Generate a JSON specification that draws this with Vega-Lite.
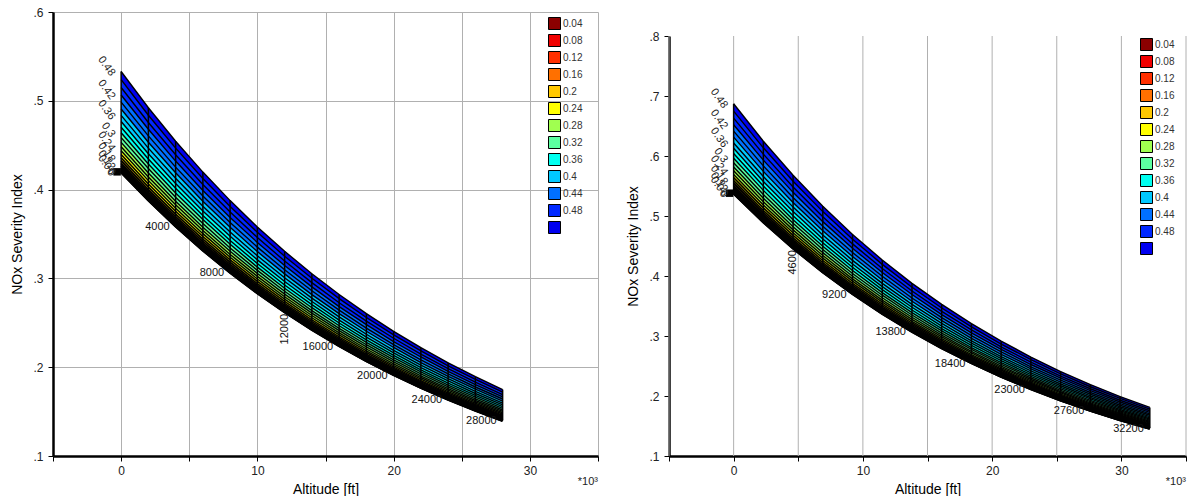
{
"$schema":"https://vega.github.io/schema/vega-lite/v6.json",
"padding":{"left":10,"top":6,"right":0,"bottom":0},
"spacing":27,
"data":{"values":"g,a,p,n\nL,0,0,0.42\nL,0,0.02,0.4202\nL,0,0.04,0.4208\nL,0,0.06,0.4218\nL,0,0.08,0.4231\nL,0,0.1,0.4249\nL,0,0.12,0.4271\nL,0,0.14,0.4296\nL,0,0.16,0.4326\nL,0,0.18,0.4359\nL,0,0.2,0.4396\nL,0,0.22,0.4437\nL,0,0.24,0.4483\nL,0,0.26,0.4532\nL,0,0.28,0.4585\nL,0,0.3,0.4641\nL,0,0.32,0.4702\nL,0,0.34,0.4767\nL,0,0.36,0.4836\nL,0,0.38,0.4908\nL,0,0.4,0.4985\nL,0,0.42,0.5065\nL,0,0.44,0.515\nL,0,0.46,0.5238\nL,0,0.48,0.533\nL,2000,0,0.3883\nL,2000,0.02,0.3885\nL,2000,0.04,0.389\nL,2000,0.06,0.3899\nL,2000,0.08,0.3912\nL,2000,0.1,0.3928\nL,2000,0.12,0.3948\nL,2000,0.14,0.3971\nL,2000,0.16,0.3998\nL,2000,0.18,0.4029\nL,2000,0.2,0.4063\nL,2000,0.22,0.4101\nL,2000,0.24,0.4143\nL,2000,0.26,0.4188\nL,2000,0.28,0.4237\nL,2000,0.3,0.4289\nL,2000,0.32,0.4345\nL,2000,0.34,0.4404\nL,2000,0.36,0.4467\nL,2000,0.38,0.4534\nL,2000,0.4,0.4605\nL,2000,0.42,0.4679\nL,2000,0.44,0.4756\nL,2000,0.46,0.4837\nL,2000,0.48,0.4922\nL,4000,0,0.359\nL,4000,0.02,0.3592\nL,4000,0.04,0.3597\nL,4000,0.06,0.3605\nL,4000,0.08,0.3617\nL,4000,0.1,0.3631\nL,4000,0.12,0.365\nL,4000,0.14,0.3671\nL,4000,0.16,0.3696\nL,4000,0.18,0.3724\nL,4000,0.2,0.3756\nL,4000,0.22,0.3791\nL,4000,0.24,0.3829\nL,4000,0.26,0.387\nL,4000,0.28,0.3915\nL,4000,0.3,0.3963\nL,4000,0.32,0.4015\nL,4000,0.34,0.4069\nL,4000,0.36,0.4127\nL,4000,0.38,0.4189\nL,4000,0.4,0.4253\nL,4000,0.42,0.4321\nL,4000,0.44,0.4393\nL,4000,0.46,0.4467\nL,4000,0.48,0.4545\nL,6000,0,0.3319\nL,6000,0.02,0.3321\nL,6000,0.04,0.3325\nL,6000,0.06,0.3333\nL,6000,0.08,0.3343\nL,6000,0.1,0.3357\nL,6000,0.12,0.3374\nL,6000,0.14,0.3394\nL,6000,0.16,0.3417\nL,6000,0.18,0.3443\nL,6000,0.2,0.3472\nL,6000,0.22,0.3504\nL,6000,0.24,0.3539\nL,6000,0.26,0.3577\nL,6000,0.28,0.3618\nL,6000,0.3,0.3662\nL,6000,0.32,0.3709\nL,6000,0.34,0.376\nL,6000,0.36,0.3813\nL,6000,0.38,0.3869\nL,6000,0.4,0.3929\nL,6000,0.42,0.3991\nL,6000,0.44,0.4057\nL,6000,0.46,0.4126\nL,6000,0.48,0.4197\nL,8000,0,0.3069\nL,8000,0.02,0.307\nL,8000,0.04,0.3074\nL,8000,0.06,0.3081\nL,8000,0.08,0.3091\nL,8000,0.1,0.3104\nL,8000,0.12,0.3119\nL,8000,0.14,0.3137\nL,8000,0.16,0.3158\nL,8000,0.18,0.3182\nL,8000,0.2,0.3209\nL,8000,0.22,0.3238\nL,8000,0.24,0.327\nL,8000,0.26,0.3305\nL,8000,0.28,0.3343\nL,8000,0.3,0.3384\nL,8000,0.32,0.3427\nL,8000,0.34,0.3474\nL,8000,0.36,0.3523\nL,8000,0.38,0.3575\nL,8000,0.4,0.3629\nL,8000,0.42,0.3687\nL,8000,0.44,0.3747\nL,8000,0.46,0.381\nL,8000,0.48,0.3876\nL,10000,0,0.2837\nL,10000,0.02,0.2838\nL,10000,0.04,0.2842\nL,10000,0.06,0.2849\nL,10000,0.08,0.2858\nL,10000,0.1,0.2869\nL,10000,0.12,0.2883\nL,10000,0.14,0.29\nL,10000,0.16,0.2919\nL,10000,0.18,0.2941\nL,10000,0.2,0.2966\nL,10000,0.22,0.2993\nL,10000,0.24,0.3023\nL,10000,0.26,0.3055\nL,10000,0.28,0.309\nL,10000,0.3,0.3127\nL,10000,0.32,0.3167\nL,10000,0.34,0.3209\nL,10000,0.36,0.3255\nL,10000,0.38,0.3302\nL,10000,0.4,0.3352\nL,10000,0.42,0.3405\nL,10000,0.44,0.3461\nL,10000,0.46,0.3519\nL,10000,0.48,0.3579\nL,12000,0,0.2623\nL,12000,0.02,0.2624\nL,12000,0.04,0.2628\nL,12000,0.06,0.2634\nL,12000,0.08,0.2642\nL,12000,0.1,0.2652\nL,12000,0.12,0.2666\nL,12000,0.14,0.2681\nL,12000,0.16,0.2699\nL,12000,0.18,0.2719\nL,12000,0.2,0.2741\nL,12000,0.22,0.2766\nL,12000,0.24,0.2793\nL,12000,0.26,0.2823\nL,12000,0.28,0.2855\nL,12000,0.3,0.2889\nL,12000,0.32,0.2926\nL,12000,0.34,0.2965\nL,12000,0.36,0.3007\nL,12000,0.38,0.3051\nL,12000,0.4,0.3097\nL,12000,0.42,0.3145\nL,12000,0.44,0.3196\nL,12000,0.46,0.325\nL,12000,0.48,0.3305\nL,14000,0,0.2425\nL,14000,0.02,0.2426\nL,14000,0.04,0.2429\nL,14000,0.06,0.2435\nL,14000,0.08,0.2442\nL,14000,0.1,0.2452\nL,14000,0.12,0.2464\nL,14000,0.14,0.2478\nL,14000,0.16,0.2495\nL,14000,0.18,0.2513\nL,14000,0.2,0.2534\nL,14000,0.22,0.2557\nL,14000,0.24,0.2582\nL,14000,0.26,0.2609\nL,14000,0.28,0.2638\nL,14000,0.3,0.267\nL,14000,0.32,0.2704\nL,14000,0.34,0.274\nL,14000,0.36,0.2778\nL,14000,0.38,0.2818\nL,14000,0.4,0.2861\nL,14000,0.42,0.2905\nL,14000,0.44,0.2952\nL,14000,0.46,0.3001\nL,14000,0.48,0.3052\nL,16000,0,0.2242\nL,16000,0.02,0.2243\nL,16000,0.04,0.2246\nL,16000,0.06,0.2251\nL,16000,0.08,0.2258\nL,16000,0.1,0.2267\nL,16000,0.12,0.2278\nL,16000,0.14,0.2291\nL,16000,0.16,0.2306\nL,16000,0.18,0.2323\nL,16000,0.2,0.2342\nL,16000,0.22,0.2363\nL,16000,0.24,0.2386\nL,16000,0.26,0.2411\nL,16000,0.28,0.2438\nL,16000,0.3,0.2467\nL,16000,0.32,0.2498\nL,16000,0.34,0.2531\nL,16000,0.36,0.2566\nL,16000,0.38,0.2603\nL,16000,0.4,0.2642\nL,16000,0.42,0.2683\nL,16000,0.44,0.2726\nL,16000,0.46,0.2772\nL,16000,0.48,0.2819\nL,18000,0,0.2073\nL,18000,0.02,0.2074\nL,18000,0.04,0.2076\nL,18000,0.06,0.2081\nL,18000,0.08,0.2087\nL,18000,0.1,0.2096\nL,18000,0.12,0.2106\nL,18000,0.14,0.2118\nL,18000,0.16,0.2132\nL,18000,0.18,0.2147\nL,18000,0.2,0.2165\nL,18000,0.22,0.2184\nL,18000,0.24,0.2205\nL,18000,0.26,0.2228\nL,18000,0.28,0.2253\nL,18000,0.3,0.228\nL,18000,0.32,0.2308\nL,18000,0.34,0.2339\nL,18000,0.36,0.2371\nL,18000,0.38,0.2405\nL,18000,0.4,0.2441\nL,18000,0.42,0.2479\nL,18000,0.44,0.2518\nL,18000,0.46,0.256\nL,18000,0.48,0.2603\nL,20000,0,0.1916\nL,20000,0.02,0.1917\nL,20000,0.04,0.192\nL,20000,0.06,0.1924\nL,20000,0.08,0.193\nL,20000,0.1,0.1937\nL,20000,0.12,0.1947\nL,20000,0.14,0.1958\nL,20000,0.16,0.197\nL,20000,0.18,0.1985\nL,20000,0.2,0.2001\nL,20000,0.22,0.2019\nL,20000,0.24,0.2038\nL,20000,0.26,0.2059\nL,20000,0.28,0.2082\nL,20000,0.3,0.2107\nL,20000,0.32,0.2133\nL,20000,0.34,0.2161\nL,20000,0.36,0.219\nL,20000,0.38,0.2222\nL,20000,0.4,0.2255\nL,20000,0.42,0.2289\nL,20000,0.44,0.2326\nL,20000,0.46,0.2364\nL,20000,0.48,0.2404\nL,22000,0,0.1772\nL,22000,0.02,0.1772\nL,22000,0.04,0.1775\nL,22000,0.06,0.1779\nL,22000,0.08,0.1784\nL,22000,0.1,0.1791\nL,22000,0.12,0.18\nL,22000,0.14,0.181\nL,22000,0.16,0.1821\nL,22000,0.18,0.1835\nL,22000,0.2,0.1849\nL,22000,0.22,0.1866\nL,22000,0.24,0.1884\nL,22000,0.26,0.1903\nL,22000,0.28,0.1924\nL,22000,0.3,0.1947\nL,22000,0.32,0.1971\nL,22000,0.34,0.1996\nL,22000,0.36,0.2024\nL,22000,0.38,0.2052\nL,22000,0.4,0.2083\nL,22000,0.42,0.2115\nL,22000,0.44,0.2148\nL,22000,0.46,0.2183\nL,22000,0.48,0.222\nL,24000,0,0.1638\nL,24000,0.02,0.1639\nL,24000,0.04,0.1641\nL,24000,0.06,0.1644\nL,24000,0.08,0.1649\nL,24000,0.1,0.1656\nL,24000,0.12,0.1664\nL,24000,0.14,0.1673\nL,24000,0.16,0.1684\nL,24000,0.18,0.1696\nL,24000,0.2,0.1709\nL,24000,0.22,0.1724\nL,24000,0.24,0.1741\nL,24000,0.26,0.1759\nL,24000,0.28,0.1778\nL,24000,0.3,0.1799\nL,24000,0.32,0.1821\nL,24000,0.34,0.1845\nL,24000,0.36,0.187\nL,24000,0.38,0.1896\nL,24000,0.4,0.1924\nL,24000,0.42,0.1953\nL,24000,0.44,0.1984\nL,24000,0.46,0.2016\nL,24000,0.48,0.205\nL,26000,0,0.1514\nL,26000,0.02,0.1515\nL,26000,0.04,0.1517\nL,26000,0.06,0.152\nL,26000,0.08,0.1525\nL,26000,0.1,0.1531\nL,26000,0.12,0.1538\nL,26000,0.14,0.1547\nL,26000,0.16,0.1556\nL,26000,0.18,0.1568\nL,26000,0.2,0.158\nL,26000,0.22,0.1594\nL,26000,0.24,0.1609\nL,26000,0.26,0.1625\nL,26000,0.28,0.1643\nL,26000,0.3,0.1662\nL,26000,0.32,0.1683\nL,26000,0.34,0.1704\nL,26000,0.36,0.1727\nL,26000,0.38,0.1752\nL,26000,0.4,0.1777\nL,26000,0.42,0.1804\nL,26000,0.44,0.1832\nL,26000,0.46,0.1862\nL,26000,0.48,0.1893\nL,28000,0,0.14\nL,28000,0.02,0.1401\nL,28000,0.04,0.1402\nL,28000,0.06,0.1405\nL,28000,0.08,0.141\nL,28000,0.1,0.1415\nL,28000,0.12,0.1422\nL,28000,0.14,0.143\nL,28000,0.16,0.1439\nL,28000,0.18,0.1449\nL,28000,0.2,0.146\nL,28000,0.22,0.1473\nL,28000,0.24,0.1487\nL,28000,0.26,0.1502\nL,28000,0.28,0.1518\nL,28000,0.3,0.1536\nL,28000,0.32,0.1555\nL,28000,0.34,0.1575\nL,28000,0.36,0.1596\nL,28000,0.38,0.1618\nL,28000,0.4,0.1642\nL,28000,0.42,0.1666\nL,28000,0.44,0.1692\nL,28000,0.46,0.172\nL,28000,0.48,0.1748\nR,0,0,0.538\nR,0,0.02,0.5383\nR,0,0.04,0.539\nR,0,0.06,0.5403\nR,0,0.08,0.5421\nR,0,0.1,0.5445\nR,0,0.12,0.5473\nR,0,0.14,0.5507\nR,0,0.16,0.5546\nR,0,0.18,0.559\nR,0,0.2,0.5639\nR,0,0.22,0.5693\nR,0,0.24,0.5753\nR,0,0.26,0.5817\nR,0,0.28,0.5887\nR,0,0.3,0.5962\nR,0,0.32,0.6042\nR,0,0.34,0.6128\nR,0,0.36,0.6218\nR,0,0.38,0.6314\nR,0,0.4,0.6415\nR,0,0.42,0.6521\nR,0,0.44,0.6632\nR,0,0.46,0.6748\nR,0,0.48,0.687\nR,2300,0,0.4902\nR,2300,0.02,0.4904\nR,2300,0.04,0.4911\nR,2300,0.06,0.4923\nR,2300,0.08,0.4939\nR,2300,0.1,0.496\nR,2300,0.12,0.4986\nR,2300,0.14,0.5016\nR,2300,0.16,0.5051\nR,2300,0.18,0.5091\nR,2300,0.2,0.5135\nR,2300,0.22,0.5184\nR,2300,0.24,0.5238\nR,2300,0.26,0.5296\nR,2300,0.28,0.5359\nR,2300,0.3,0.5427\nR,2300,0.32,0.5499\nR,2300,0.34,0.5576\nR,2300,0.36,0.5658\nR,2300,0.38,0.5744\nR,2300,0.4,0.5835\nR,2300,0.42,0.5931\nR,2300,0.44,0.6031\nR,2300,0.46,0.6136\nR,2300,0.48,0.6246\nR,4600,0,0.4466\nR,4600,0.02,0.4468\nR,4600,0.04,0.4474\nR,4600,0.06,0.4485\nR,4600,0.08,0.4499\nR,4600,0.1,0.4518\nR,4600,0.12,0.4541\nR,4600,0.14,0.4569\nR,4600,0.16,0.46\nR,4600,0.18,0.4636\nR,4600,0.2,0.4676\nR,4600,0.22,0.472\nR,4600,0.24,0.4769\nR,4600,0.26,0.4821\nR,4600,0.28,0.4878\nR,4600,0.3,0.4939\nR,4600,0.32,0.5004\nR,4600,0.34,0.5074\nR,4600,0.36,0.5148\nR,4600,0.38,0.5225\nR,4600,0.4,0.5308\nR,4600,0.42,0.5394\nR,4600,0.44,0.5484\nR,4600,0.46,0.5579\nR,4600,0.48,0.5678\nR,6900,0,0.4069\nR,6900,0.02,0.407\nR,6900,0.04,0.4076\nR,6900,0.06,0.4086\nR,6900,0.08,0.4099\nR,6900,0.1,0.4116\nR,6900,0.12,0.4137\nR,6900,0.14,0.4162\nR,6900,0.16,0.419\nR,6900,0.18,0.4222\nR,6900,0.2,0.4258\nR,6900,0.22,0.4298\nR,6900,0.24,0.4342\nR,6900,0.26,0.4389\nR,6900,0.28,0.4441\nR,6900,0.3,0.4496\nR,6900,0.32,0.4554\nR,6900,0.34,0.4617\nR,6900,0.36,0.4684\nR,6900,0.38,0.4754\nR,6900,0.4,0.4828\nR,6900,0.42,0.4906\nR,6900,0.44,0.4987\nR,6900,0.46,0.5073\nR,6900,0.48,0.5162\nR,9200,0,0.3707\nR,9200,0.02,0.3708\nR,9200,0.04,0.3714\nR,9200,0.06,0.3722\nR,9200,0.08,0.3734\nR,9200,0.1,0.375\nR,9200,0.12,0.3768\nR,9200,0.14,0.3791\nR,9200,0.16,0.3816\nR,9200,0.18,0.3845\nR,9200,0.2,0.3878\nR,9200,0.22,0.3914\nR,9200,0.24,0.3953\nR,9200,0.26,0.3996\nR,9200,0.28,0.4042\nR,9200,0.3,0.4092\nR,9200,0.32,0.4145\nR,9200,0.34,0.4201\nR,9200,0.36,0.4261\nR,9200,0.38,0.4325\nR,9200,0.4,0.4391\nR,9200,0.42,0.4462\nR,9200,0.44,0.4535\nR,9200,0.46,0.4612\nR,9200,0.48,0.4693\nR,11500,0,0.3377\nR,11500,0.02,0.3379\nR,11500,0.04,0.3383\nR,11500,0.06,0.3391\nR,11500,0.08,0.3402\nR,11500,0.1,0.3416\nR,11500,0.12,0.3433\nR,11500,0.14,0.3453\nR,11500,0.16,0.3476\nR,11500,0.18,0.3502\nR,11500,0.2,0.3531\nR,11500,0.22,0.3564\nR,11500,0.24,0.3599\nR,11500,0.26,0.3638\nR,11500,0.28,0.368\nR,11500,0.3,0.3724\nR,11500,0.32,0.3772\nR,11500,0.34,0.3823\nR,11500,0.36,0.3877\nR,11500,0.38,0.3934\nR,11500,0.4,0.3995\nR,11500,0.42,0.4058\nR,11500,0.44,0.4124\nR,11500,0.46,0.4194\nR,11500,0.48,0.4266\nR,13800,0,0.3077\nR,13800,0.02,0.3078\nR,13800,0.04,0.3082\nR,13800,0.06,0.3089\nR,13800,0.08,0.3099\nR,13800,0.1,0.3112\nR,13800,0.12,0.3127\nR,13800,0.14,0.3145\nR,13800,0.16,0.3166\nR,13800,0.18,0.319\nR,13800,0.2,0.3216\nR,13800,0.22,0.3245\nR,13800,0.24,0.3277\nR,13800,0.26,0.3312\nR,13800,0.28,0.335\nR,13800,0.3,0.339\nR,13800,0.32,0.3433\nR,13800,0.34,0.3479\nR,13800,0.36,0.3528\nR,13800,0.38,0.3579\nR,13800,0.4,0.3633\nR,13800,0.42,0.3691\nR,13800,0.44,0.375\nR,13800,0.46,0.3813\nR,13800,0.48,0.3878\nR,16100,0,0.2803\nR,16100,0.02,0.2804\nR,16100,0.04,0.2808\nR,16100,0.06,0.2814\nR,16100,0.08,0.2823\nR,16100,0.1,0.2835\nR,16100,0.12,0.2848\nR,16100,0.14,0.2865\nR,16100,0.16,0.2883\nR,16100,0.18,0.2905\nR,16100,0.2,0.2929\nR,16100,0.22,0.2955\nR,16100,0.24,0.2984\nR,16100,0.26,0.3015\nR,16100,0.28,0.3049\nR,16100,0.3,0.3085\nR,16100,0.32,0.3124\nR,16100,0.34,0.3166\nR,16100,0.36,0.321\nR,16100,0.38,0.3256\nR,16100,0.4,0.3305\nR,16100,0.42,0.3357\nR,16100,0.44,0.341\nR,16100,0.46,0.3467\nR,16100,0.48,0.3526\nR,18400,0,0.2554\nR,18400,0.02,0.2555\nR,18400,0.04,0.2558\nR,18400,0.06,0.2564\nR,18400,0.08,0.2572\nR,18400,0.1,0.2582\nR,18400,0.12,0.2595\nR,18400,0.14,0.2609\nR,18400,0.16,0.2626\nR,18400,0.18,0.2645\nR,18400,0.2,0.2667\nR,18400,0.22,0.2691\nR,18400,0.24,0.2717\nR,18400,0.26,0.2745\nR,18400,0.28,0.2776\nR,18400,0.3,0.2808\nR,18400,0.32,0.2843\nR,18400,0.34,0.2881\nR,18400,0.36,0.292\nR,18400,0.38,0.2962\nR,18400,0.4,0.3006\nR,18400,0.42,0.3053\nR,18400,0.44,0.3101\nR,18400,0.46,0.3152\nR,18400,0.48,0.3205\nR,20700,0,0.2327\nR,20700,0.02,0.2328\nR,20700,0.04,0.2331\nR,20700,0.06,0.2336\nR,20700,0.08,0.2343\nR,20700,0.1,0.2352\nR,20700,0.12,0.2363\nR,20700,0.14,0.2377\nR,20700,0.16,0.2392\nR,20700,0.18,0.2409\nR,20700,0.2,0.2429\nR,20700,0.22,0.245\nR,20700,0.24,0.2474\nR,20700,0.26,0.2499\nR,20700,0.28,0.2527\nR,20700,0.3,0.2556\nR,20700,0.32,0.2588\nR,20700,0.34,0.2621\nR,20700,0.36,0.2657\nR,20700,0.38,0.2695\nR,20700,0.4,0.2735\nR,20700,0.42,0.2776\nR,20700,0.44,0.282\nR,20700,0.46,0.2866\nR,20700,0.48,0.2914\nR,23000,0,0.212\nR,23000,0.02,0.2121\nR,23000,0.04,0.2124\nR,23000,0.06,0.2128\nR,23000,0.08,0.2135\nR,23000,0.1,0.2143\nR,23000,0.12,0.2153\nR,23000,0.14,0.2165\nR,23000,0.16,0.2179\nR,23000,0.18,0.2194\nR,23000,0.2,0.2212\nR,23000,0.22,0.2231\nR,23000,0.24,0.2252\nR,23000,0.26,0.2275\nR,23000,0.28,0.23\nR,23000,0.3,0.2327\nR,23000,0.32,0.2355\nR,23000,0.34,0.2385\nR,23000,0.36,0.2418\nR,23000,0.38,0.2452\nR,23000,0.4,0.2487\nR,23000,0.42,0.2525\nR,23000,0.44,0.2565\nR,23000,0.46,0.2606\nR,23000,0.48,0.2649\nR,25300,0,0.1931\nR,25300,0.02,0.1932\nR,25300,0.04,0.1935\nR,25300,0.06,0.1939\nR,25300,0.08,0.1945\nR,25300,0.1,0.1952\nR,25300,0.12,0.1961\nR,25300,0.14,0.1972\nR,25300,0.16,0.1984\nR,25300,0.18,0.1998\nR,25300,0.2,0.2014\nR,25300,0.22,0.2032\nR,25300,0.24,0.2051\nR,25300,0.26,0.2071\nR,25300,0.28,0.2094\nR,25300,0.3,0.2118\nR,25300,0.32,0.2143\nR,25300,0.34,0.2171\nR,25300,0.36,0.22\nR,25300,0.38,0.223\nR,25300,0.4,0.2263\nR,25300,0.42,0.2297\nR,25300,0.44,0.2332\nR,25300,0.46,0.237\nR,25300,0.48,0.2408\nR,27600,0,0.176\nR,27600,0.02,0.176\nR,27600,0.04,0.1763\nR,27600,0.06,0.1766\nR,27600,0.08,0.1772\nR,27600,0.1,0.1778\nR,27600,0.12,0.1786\nR,27600,0.14,0.1796\nR,27600,0.16,0.1807\nR,27600,0.18,0.182\nR,27600,0.2,0.1834\nR,27600,0.22,0.185\nR,27600,0.24,0.1867\nR,27600,0.26,0.1886\nR,27600,0.28,0.1906\nR,27600,0.3,0.1928\nR,27600,0.32,0.1951\nR,27600,0.34,0.1975\nR,27600,0.36,0.2001\nR,27600,0.38,0.2029\nR,27600,0.4,0.2058\nR,27600,0.42,0.2089\nR,27600,0.44,0.2121\nR,27600,0.46,0.2154\nR,27600,0.48,0.219\nR,29900,0,0.1603\nR,29900,0.02,0.1604\nR,29900,0.04,0.1606\nR,29900,0.06,0.1609\nR,29900,0.08,0.1614\nR,29900,0.1,0.162\nR,29900,0.12,0.1627\nR,29900,0.14,0.1636\nR,29900,0.16,0.1646\nR,29900,0.18,0.1658\nR,29900,0.2,0.167\nR,29900,0.22,0.1684\nR,29900,0.24,0.17\nR,29900,0.26,0.1717\nR,29900,0.28,0.1735\nR,29900,0.3,0.1754\nR,29900,0.32,0.1775\nR,29900,0.34,0.1797\nR,29900,0.36,0.1821\nR,29900,0.38,0.1846\nR,29900,0.4,0.1872\nR,29900,0.42,0.19\nR,29900,0.44,0.1929\nR,29900,0.46,0.1959\nR,29900,0.48,0.1991\nR,32200,0,0.1461\nR,32200,0.02,0.1461\nR,32200,0.04,0.1463\nR,32200,0.06,0.1466\nR,32200,0.08,0.147\nR,32200,0.1,0.1476\nR,32200,0.12,0.1482\nR,32200,0.14,0.149\nR,32200,0.16,0.1499\nR,32200,0.18,0.151\nR,32200,0.2,0.1521\nR,32200,0.22,0.1534\nR,32200,0.24,0.1548\nR,32200,0.26,0.1563\nR,32200,0.28,0.1579\nR,32200,0.3,0.1597\nR,32200,0.32,0.1616\nR,32200,0.34,0.1636\nR,32200,0.36,0.1657\nR,32200,0.38,0.1679\nR,32200,0.4,0.1703\nR,32200,0.42,0.1728\nR,32200,0.44,0.1754\nR,32200,0.46,0.1781\nR,32200,0.48,0.181\n","format":{"type":"csv","parse":{"a":"number","p":"number","n":"number"}}},
"hconcat":[
{"width":545,"height":444,
 "layer":[
  {"transform":[{"filter":"datum.g=='L'"},{"window":[{"op":"lead","field":"n","as":"n2"},{"op":"lead","field":"p","as":"p2"}],"groupby":["a"],"sort":[{"field":"p","order":"ascending"}]},{"filter":"datum.p2 != null"}],
   "mark":{"type":"area","strokeWidth":0,"opacity":1},
   "encoding":{
    "x":{"field":"a","type":"quantitative","scale":{"domain":[-5000,35000],"nice":false,"zero":false},"axis":{"values":[-5000,0,5000,10000,15000,20000,25000,30000,35000],"labelExpr":"datum.value % 10000 == 0 ? format(datum.value/1000,'d') : ''","title":"Altitude [ft]"}},
    "y":{"field":"n","type":"quantitative","scale":{"domain":[0.1,0.6],"nice":false,"zero":false},"axis":{"values":[0.1,0.2,0.3,0.4,0.5,0.6],"labelExpr":"replace(format(datum.value,'.1f'),'0.','.')","title":"NOx Severity Index"}},
    "y2":{"field":"n2"},
    "detail":{"field":"p","type":"nominal"},
    "color":{"field":"p2","type":"ordinal","scale":{"domain":[0.02,0.04,0.06,0.08,0.1,0.12,0.14,0.16,0.18,0.2,0.22,0.24,0.26,0.28,0.3,0.32,0.34,0.36,0.38,0.4,0.42,0.44,0.46,0.48],"range":["#8b0000","#f00000","#f00000","#ff3000","#ff3000","#ff7000","#ff7000","#ffc800","#ffc800","#ffff00","#ffff00","#a0ff50","#a0ff50","#5cffa0","#5cffa0","#00fff0","#00fff0","#00c8ff","#00c8ff","#0070ff","#0070ff","#0028ff","#0028ff","#0000f0"]},
      "legend":{"orient":"none","legendX":495,"legendY":5,"type":"symbol","direction":"vertical","title":null,"values":[0.02,0.04,0.08,0.12,0.16,0.2,0.24,0.28,0.32,0.36,0.4,0.44,0.48],"labelExpr":"datum.value == 0.48 ? '' : format(datum.value == 0.02 ? 0.04 : datum.value + 0.04, '~g')"}}
   }},
  {"transform":[{"filter":"datum.g=='L'"}],
   "mark":{"type":"line","color":"black"},
   "encoding":{
    "x":{"field":"a","type":"quantitative","scale":{"domain":[-5000,35000],"nice":false,"zero":false}},
    "y":{"field":"n","type":"quantitative","scale":{"domain":[0.1,0.6],"nice":false,"zero":false}},
    "detail":{"field":"p","type":"nominal"},
    "strokeWidth":{"field":"p","type":"quantitative","scale":{"domain":[0,0.22],"range":[3,1.4],"clamp":true},"legend":null}
   }},
  {"transform":[{"filter":"datum.g=='L'"}],
   "mark":{"type":"rule","color":"black","strokeWidth":1.5},
   "encoding":{
    "x":{"field":"a","type":"quantitative","scale":{"domain":[-5000,35000],"nice":false,"zero":false}},
    "y":{"aggregate":"min","field":"n","type":"quantitative","scale":{"domain":[0.1,0.6],"nice":false,"zero":false}},
    "y2":{"aggregate":"max","field":"n"}
   }},
  {"transform":[{"filter":"datum.g=='L' && datum.a==0 && datum.p==0"}],
   "mark":{"type":"square","color":"black","filled":true,"opacity":1,"size":56,"xOffset":-4},
   "encoding":{
    "x":{"field":"a","type":"quantitative"},
    "y":{"field":"n","type":"quantitative"}
   }},
  {"transform":[{"filter":"datum.g=='L' && datum.a==0 && indexof([0,0.06,0.12,0.18,0.24,0.3,0.36,0.42,0.48], datum.p) >= 0"}],
   "mark":{"type":"text","angle":55,"align":"right","baseline":"middle","dx":-2,"dy":9,"fontSize":11,"font":"Liberation Sans","color":"#222"},
   "encoding":{
    "x":{"field":"a","type":"quantitative"},
    "y":{"field":"n","type":"quantitative"},
    "text":{"field":"p","type":"quantitative","format":"~g"}
   }},
  {"transform":[{"filter":"datum.g=='L' && datum.p==0 && indexof([4000,8000,16000,20000,24000,28000], datum.a) >= 0"}],
   "mark":{"type":"text","align":"right","baseline":"middle","dx":-6,"dy":1,"fontSize":11,"font":"Liberation Sans","color":"#111"},
   "encoding":{
    "x":{"field":"a","type":"quantitative"},
    "y":{"field":"n","type":"quantitative"},
    "text":{"field":"a","type":"quantitative","format":"d"}
   }},
  {"transform":[{"filter":"datum.g=='L' && datum.p==0 && datum.a==12000"}],
   "mark":{"type":"text","angle":270,"align":"right","baseline":"middle","dx":-2,"fontSize":11,"font":"Liberation Sans","color":"#111"},
   "encoding":{
    "x":{"field":"a","type":"quantitative"},
    "y":{"field":"n","type":"quantitative"},
    "text":{"field":"a","type":"quantitative","format":"d"}
   }},
  {"data":{"values":[{"a":35000,"n":0.1,"t":"*10³"}]},
   "mark":{"type":"text","align":"right","baseline":"top","dy":20,"fontSize":11,"font":"Liberation Sans","color":"#222"},
   "encoding":{
    "x":{"field":"a","type":"quantitative"},
    "y":{"field":"n","type":"quantitative"},
    "text":{"field":"t"}
   }}
 ]},
{"width":517,"height":444,
 "layer":[
  {"data":{"values":[{"gx":-5000},{"gx":0},{"gx":5000},{"gx":10000},{"gx":15000},{"gx":20000},{"gx":25000},{"gx":30000},{"gx":35000}]},
   "mark":{"type":"rule","color":"#b0b0b0","strokeWidth":1},
   "encoding":{
    "x":{"field":"gx","type":"quantitative","scale":{"domain":[-5000,35000],"nice":false,"zero":false}},
    "y":{"datum":0.1,"type":"quantitative","scale":{"domain":[0.1,0.8],"nice":false,"zero":false,"range":[444,24]}},
    "y2":{"datum":0.8}
   }},
  {"transform":[{"filter":"datum.g=='R'"},{"window":[{"op":"lead","field":"n","as":"n2"},{"op":"lead","field":"p","as":"p2"}],"groupby":["a"],"sort":[{"field":"p","order":"ascending"}]},{"filter":"datum.p2 != null"}],
   "mark":{"type":"area","strokeWidth":0,"opacity":1},
   "encoding":{
    "x":{"field":"a","type":"quantitative","scale":{"domain":[-5000,35000],"nice":false,"zero":false},"axis":{"grid":false,"values":[-5000,0,5000,10000,15000,20000,25000,30000,35000],"labelExpr":"datum.value % 10000 == 0 ? format(datum.value/1000,'d') : ''","title":"Altitude [ft]"}},
    "y":{"field":"n","type":"quantitative","scale":{"domain":[0.1,0.8],"nice":false,"zero":false,"range":[444,24]},"axis":{"values":[0.1,0.2,0.3,0.4,0.5,0.6,0.7,0.8],"labelExpr":"replace(format(datum.value,'.1f'),'0.','.')","title":"NOx Severity Index"}},
    "y2":{"field":"n2"},
    "detail":{"field":"p","type":"nominal"},
    "color":{"field":"p2","type":"ordinal","scale":{"domain":[0.02,0.04,0.06,0.08,0.1,0.12,0.14,0.16,0.18,0.2,0.22,0.24,0.26,0.28,0.3,0.32,0.34,0.36,0.38,0.4,0.42,0.44,0.46,0.48],"range":["#8b0000","#f00000","#f00000","#ff3000","#ff3000","#ff7000","#ff7000","#ffc800","#ffc800","#ffff00","#ffff00","#a0ff50","#a0ff50","#5cffa0","#5cffa0","#00fff0","#00fff0","#00c8ff","#00c8ff","#0070ff","#0070ff","#0028ff","#0028ff","#0000f0"]},
      "legend":{"orient":"none","legendX":471,"legendY":26,"type":"symbol","direction":"vertical","title":null,"values":[0.02,0.04,0.08,0.12,0.16,0.2,0.24,0.28,0.32,0.36,0.4,0.44,0.48],"labelExpr":"datum.value == 0.48 ? '' : format(datum.value == 0.02 ? 0.04 : datum.value + 0.04, '~g')"}}
   }},
  {"transform":[{"filter":"datum.g=='R'"}],
   "mark":{"type":"line","color":"black"},
   "encoding":{
    "x":{"field":"a","type":"quantitative","scale":{"domain":[-5000,35000],"nice":false,"zero":false}},
    "y":{"field":"n","type":"quantitative","scale":{"domain":[0.1,0.8],"nice":false,"zero":false,"range":[444,24]}},
    "detail":{"field":"p","type":"nominal"},
    "strokeWidth":{"field":"p","type":"quantitative","scale":{"domain":[0,0.22],"range":[3,1.4],"clamp":true},"legend":null}
   }},
  {"transform":[{"filter":"datum.g=='R'"}],
   "mark":{"type":"rule","color":"black","strokeWidth":1.5},
   "encoding":{
    "x":{"field":"a","type":"quantitative","scale":{"domain":[-5000,35000],"nice":false,"zero":false}},
    "y":{"aggregate":"min","field":"n","type":"quantitative","scale":{"domain":[0.1,0.8],"nice":false,"zero":false,"range":[444,24]}},
    "y2":{"aggregate":"max","field":"n"}
   }},
  {"transform":[{"filter":"datum.g=='R' && datum.a==0 && datum.p==0"}],
   "mark":{"type":"square","color":"black","filled":true,"opacity":1,"size":56,"xOffset":-4},
   "encoding":{
    "x":{"field":"a","type":"quantitative"},
    "y":{"field":"n","type":"quantitative"}
   }},
  {"transform":[{"filter":"datum.g=='R' && datum.a==0 && indexof([0,0.06,0.12,0.18,0.24,0.3,0.36,0.42,0.48], datum.p) >= 0"}],
   "mark":{"type":"text","angle":55,"align":"right","baseline":"middle","dx":-2,"dy":9,"fontSize":11,"font":"Liberation Sans","color":"#222"},
   "encoding":{
    "x":{"field":"a","type":"quantitative"},
    "y":{"field":"n","type":"quantitative"},
    "text":{"field":"p","type":"quantitative","format":"~g"}
   }},
  {"transform":[{"filter":"datum.g=='R' && datum.p==0 && indexof([9200,13800,18400,23000,27600,32200], datum.a) >= 0"}],
   "mark":{"type":"text","align":"right","baseline":"middle","dx":-6,"dy":1,"fontSize":11,"font":"Liberation Sans","color":"#111"},
   "encoding":{
    "x":{"field":"a","type":"quantitative"},
    "y":{"field":"n","type":"quantitative"},
    "text":{"field":"a","type":"quantitative","format":"d"}
   }},
  {"transform":[{"filter":"datum.g=='R' && datum.p==0 && datum.a==4600"}],
   "mark":{"type":"text","angle":270,"align":"right","baseline":"middle","dx":-2,"fontSize":11,"font":"Liberation Sans","color":"#111"},
   "encoding":{
    "x":{"field":"a","type":"quantitative"},
    "y":{"field":"n","type":"quantitative"},
    "text":{"field":"a","type":"quantitative","format":"d"}
   }},
  {"data":{"values":[{"a":35000,"n":0.1,"t":"*10³"}]},
   "mark":{"type":"text","align":"right","baseline":"top","dy":20,"fontSize":11,"font":"Liberation Sans","color":"#222"},
   "encoding":{
    "x":{"field":"a","type":"quantitative"},
    "y":{"field":"n","type":"quantitative"},
    "text":{"field":"t"}
   }}
 ]}
],
"resolve":{"scale":{"x":"independent","y":"independent","color":"independent","strokeWidth":"independent"},"legend":{"color":"independent"}},
"config":{
 "view":{"stroke":null},
 "font":"Liberation Sans",
 "legend":{"rowPadding":0,"symbolType":"square","symbolSize":144,"symbolStrokeColor":"black","symbolStrokeWidth":1,"symbolOpacity":1,"labelFontSize":10,"labelFont":"Liberation Sans","labelColor":"#333","labelBaseline":"middle","labelOffset":2,"labelOverlap":false,"padding":0},
 "axis":{"domainColor":"black","domainWidth":2.5,"tickColor":"black","tickSize":5,"tickWidth":1,"gridColor":"#b0b0b0","gridWidth":1,"labelFont":"Liberation Sans","labelFontSize":12,"labelColor":"#222","titleFont":"Liberation Sans","titleFontSize":14,"titleFontWeight":"normal","titleColor":"black","labelFlush":false,"labelOverlap":false},
 "axisX":{"labelPadding":4,"titlePadding":6},
 "axisY":{"labelPadding":5,"titlePadding":8}
}
}
